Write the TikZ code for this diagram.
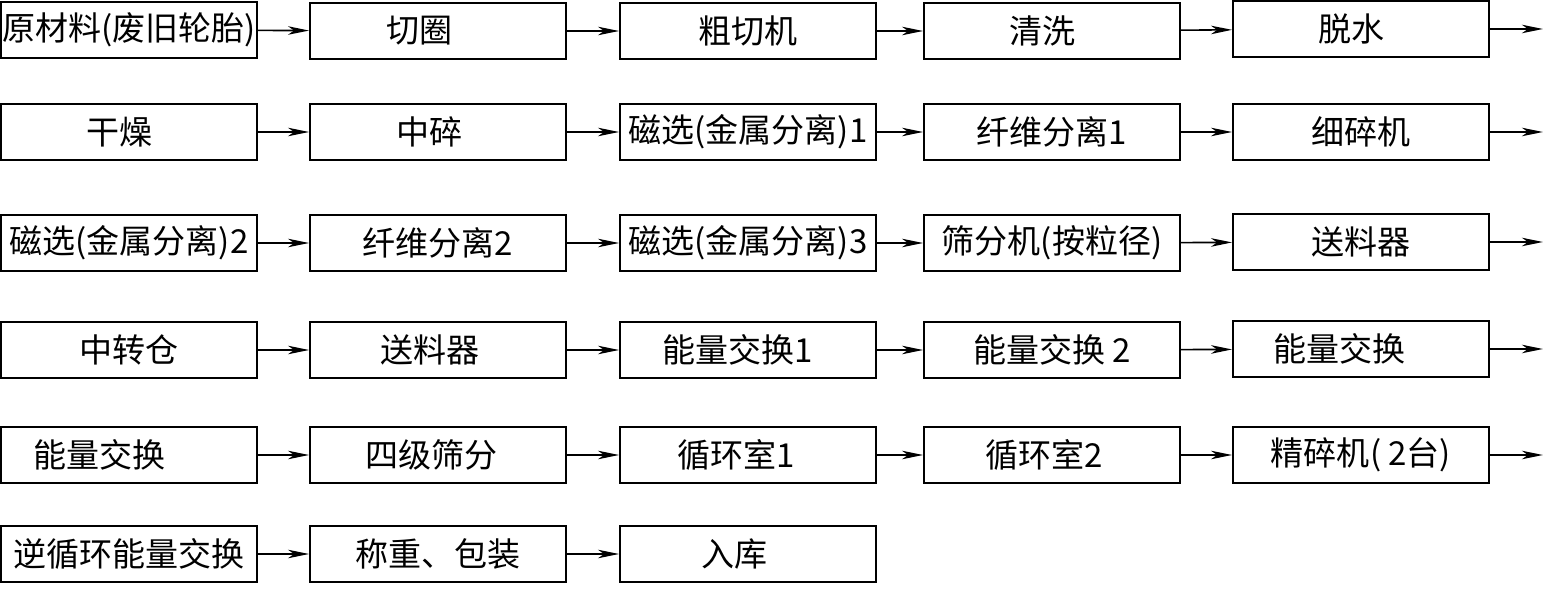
\documentclass[tikz,border=0pt]{standalone}
\usepackage{fontspec}
\setmainfont{Noto Sans CJK SC}
\usetikzlibrary{arrows.meta}

\begin{document}
\begin{tikzpicture}[x=0.02cm, y=-0.02cm, >={Stealth[length=0.42cm,width=0.17cm,inset=0.12cm]},
  procbox/.style={draw, line width=1.1pt, minimum width=5.12cm, minimum height=1.12cm,
    inner sep=0pt, font=\fontsize{18.8}{19}\selectfont},
  flow/.style={->, line width=0.9pt}]
  \useasboundingbox (0,0) rectangle (1545,597);

  % row 1
  \node[procbox] (r1c1) at (129, 30) {原材料(废旧轮胎)};
  \node[procbox] (r1c2) at (438, 31) {\hspace*{-1.1em}切圈};
  \node[procbox] (r1c3) at (748, 31) {粗切机};
  \node[procbox] (r1c4) at (1052,31) {\hspace*{-0.6em}清洗};
  \node[procbox] (r1c5) at (1361,29) {\hspace*{-0.6em}脱水};

  % row 2
  \node[procbox] (r2c1) at (129, 132) {\hspace*{-0.6em}干燥};
  \node[procbox] (r2c2) at (438, 132) {\hspace*{-0.5em}中碎};
  \node[procbox] (r2c3) at (748, 132) {磁选(金属分离)1};
  \node[procbox] (r2c4) at (1052,132) {纤维分离1};
  \node[procbox] (r2c5) at (1361,132) {细碎机};

  % row 3
  \node[procbox] (r3c1) at (129, 243) {磁选(金属分离)2};
  \node[procbox] (r3c2) at (438, 243) {纤维分离2};
  \node[procbox] (r3c3) at (748, 243) {磁选(金属分离)3};
  \node[procbox] (r3c4) at (1052,243) {筛分机(按粒径)};
  \node[procbox] (r3c5) at (1361,242) {送料器};

  % row 4
  \node[procbox] (r4c1) at (129, 350) {中转仓};
  \node[procbox] (r4c2) at (438, 350) {\hspace*{-0.5em}送料器};
  \node[procbox] (r4c3) at (748, 350) {\hspace*{-0.6em}能量交换1};
  \node[procbox] (r4c4) at (1052,350) {能量交换 2};
  \node[procbox] (r4c5) at (1361,349) {\hspace*{-1.3em}能量交换};

  % row 5
  \node[procbox] (r5c1) at (129, 455) {\hspace*{-1.8em}能量交换};
  \node[procbox] (r5c2) at (438, 455) {\hspace*{-0.4em}四级筛分};
  \node[procbox] (r5c3) at (748, 455) {\hspace*{-0.7em}循环室1};
  \node[procbox] (r5c4) at (1052,455) {\hspace*{-0.5em}循环室2};
  \node[procbox] (r5c5) at (1361,455) {精碎机( 2台)};

  % row 6
  \node[procbox] (r6c1) at (129, 554) {逆循环能量交换};
  \node[procbox] (r6c2) at (438, 554) {称重、包装};
  \node[procbox] (r6c3) at (748, 554) {\hspace*{-0.8em}入库};

  % connectors inside each row
  \foreach \r in {1,...,5}
    \foreach \c [count=\n from 2] in {1,...,4}
      \draw[flow] (r\r c\c) -- (r\r c\n);
  \draw[flow] (r6c1) -- (r6c2);
  \draw[flow] (r6c2) -- (r6c3);

  % line continues on next row
  \foreach \r in {1,...,5} {
    \coordinate (e\r) at ([xshift=1.06cm]r\r c5.east);
    \draw[flow] (r\r c5.east) -- (e\r);
  }
\end{tikzpicture}
\end{document}
